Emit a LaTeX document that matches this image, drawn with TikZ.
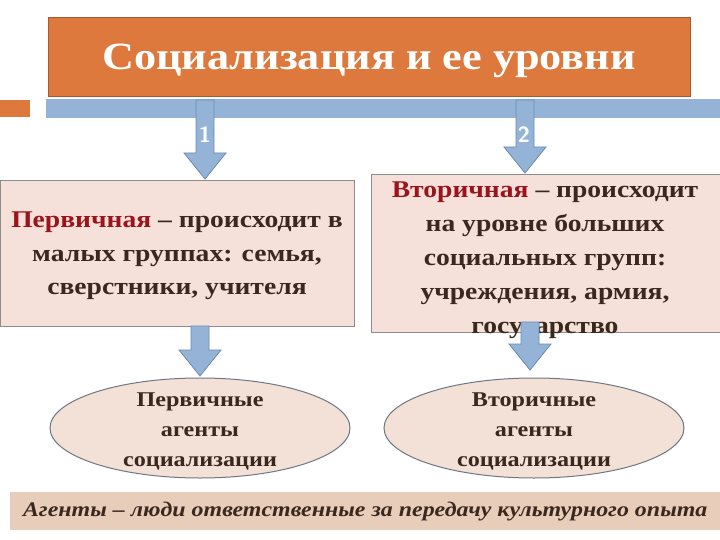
\documentclass[tikz,border=0pt]{standalone}
\usepackage{fontspec}
\setmainfont[FakeStretch=1.15]{Liberation Serif}
\usetikzlibrary{shapes.geometric}
\definecolor{orng}{RGB}{222,121,62}
\definecolor{barblue}{RGB}{149,179,215}
\definecolor{arredge}{RGB}{105,138,180}
\definecolor{boxfill}{RGB}{245,225,218}
\definecolor{boxedge}{RGB}{140,140,140}
\definecolor{ellfill}{RGB}{243,224,214}
\definecolor{ellline}{RGB}{110,120,130}
\definecolor{deffill}{RGB}{232,205,187}
\definecolor{txt}{RGB}{58,40,30}
\definecolor{redtxt}{RGB}{155,20,28}
\newcommand{\blockarr}[3]{\draw[arrstyle] (#1-9,#2) -- (#1+9,#2) -- (#1+9,#3-26) -- (#1+21,#3-26) -- (#1,#3) -- (#1-21,#3-26) -- (#1-9,#3-26) -- cycle;}
\tikzset{
  arrstyle/.style={fill=barblue, draw=arredge, line width=0.8pt, line join=miter},
  levelbox/.style={draw=boxedge, fill=boxfill, line width=1.2pt, anchor=north west, inner sep=0pt},
  boxtext/.style={text=txt, align=center, font=\bfseries\fontsize{24}{33.5}\selectfont},
  agent/.style={ellipse, draw=ellline, fill=ellfill, line width=1pt, minimum width=300pt, minimum height=100pt, inner sep=0pt, text=txt, align=center, font=\bfseries\fontsize{21}{30}\selectfont},
  num/.style={text=white, font=\bfseries\sffamily\fontsize{22}{26}\selectfont}
}
\begin{document}
\begin{tikzpicture}[x=1pt,y=-1pt]
\useasboundingbox (0,0) rectangle (720,540);
\fill[white] (0,0) rectangle (720,540);
% decorative bars
\fill[barblue] (46,99) rectangle (720,118);
\fill[orng] (0,100) rectangle (30,117);
% title
\node[draw=orng!75!black, fill=orng, line width=1pt, minimum width=642pt, minimum height=79pt, anchor=north west, inner sep=0pt] (title) at (48,17) {};
\node[text=white, font=\bfseries\fontsize{38.5}{46}\selectfont] (titletext) at (369,61) {Социализация и ее уровни};
% level boxes
\node[levelbox, minimum width=354pt, minimum height=146pt] (prim) at (0,180) {};
\node[levelbox, minimum width=349pt, minimum height=158pt] (sec) at (371,174) {};
\node[boxtext, anchor=center] (primtext) at (177,256) {\textcolor{redtxt}{Первичная} – происходит в\\малых группах: семья,\\сверстники, учителя};
\node[boxtext, anchor=center, font=\bfseries\fontsize{24}{34}\selectfont] (sectext) at (545,260) {\textcolor{redtxt}{Вторичная} – происходит\\на уровне больших\\социальных групп:\\учреждения, армия,\\государство};
% arrows from title
\blockarr{205}{100}{179}
\blockarr{525}{100}{173}
\node[num] (n1) at (205,135) {1};
\node[num] (n2) at (524,135) {2};
% arrows to agents
\blockarr{200}{326}{376}
\blockarr{530}{322}{370}
% agents
\node[agent] (pa) at (200,428) {};
\node[agent] (sa) at (534,428) {};
\node[text=txt, align=center, font=\bfseries\fontsize{21}{30}\selectfont] (patext) at (200,431) {Первичные\\агенты\\социализации};
\node[text=txt, align=center, font=\bfseries\fontsize{21}{30}\selectfont] (satext) at (534,431) {Вторичные\\агенты\\социализации};
% definition
\node[fill=deffill, minimum width=710pt, minimum height=38pt, anchor=north west, inner sep=0pt, text=txt,
      font=\bfseries\itshape\fontsize{20.8}{25}\selectfont] (def) at (10,492) {Агенты – люди ответственные за передачу культурного опыта};
\end{tikzpicture}
\end{document}
